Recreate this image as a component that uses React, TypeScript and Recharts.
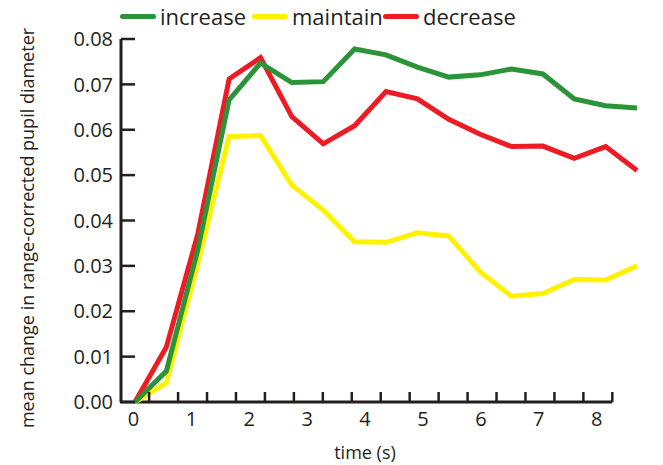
import React from 'react';
import { LineChart, Line, XAxis, YAxis, ReferenceLine } from 'recharts';

// pupil response over time, one value per half second
const time = [0, 0.5, 1, 1.5, 2, 2.5, 3, 3.5, 4, 4.5, 5, 5.5, 6, 6.5, 7, 7.5, 8];
const increase = [0, 0.0068, 0.0335, 0.0666, 0.0747, 0.0704, 0.0706, 0.0778, 0.0765, 0.0738, 0.0716, 0.0721, 0.0734, 0.0723, 0.0668, 0.0653, 0.0648];
const maintain = [0, 0.0042, 0.0305, 0.0585, 0.0587, 0.0478, 0.0423, 0.0353, 0.0352, 0.0373, 0.0366, 0.0287, 0.0233, 0.0239, 0.027, 0.0269, 0.03];
const decrease = [0, 0.0121, 0.037, 0.0712, 0.0759, 0.0629, 0.0569, 0.0609, 0.0684, 0.0668, 0.0623, 0.059, 0.0563, 0.0564, 0.0537, 0.0563, 0.051];

const timeTicks = [0, 1, 2, 3, 4, 5, 6, 7, 8];
// the printed tick marks sit a little off the labels
const markTicks = [0.27, 0.77, 1.27, 1.77, 2.27, 2.77, 3.27, 3.77, 4.27, 4.77, 5.27, 5.77, 6.27, 6.77, 7.27, 7.77, 8.27];
const yTicks = [0, 0.01, 0.02, 0.03, 0.04, 0.05, 0.06, 0.07, 0.08];

const series = [
    { key: 'increase', color: '#2b9338' },
    { key: 'maintain', color: '#fff200' },
    { key: 'decrease', color: '#ed1c24' },
];
// drawing order: green sits on top
const drawOrder = ['maintain', 'decrease', 'increase'];

const rows = time.map((t, i) => ({ t, increase: increase[i], maintain: maintain[i], decrease: decrease[i] }));

const ink = '#231f20';
const font = '"Open Sans", sans-serif';

// the printed time axis is slightly compressed against the plotted samples
const axisRatio = 0.9227;
const axisShift = -0.024;
const toData = (s: number) => +(axisShift + s * axisRatio).toFixed(4);
const labelPos = timeTicks.map(toData);
const markPos = markTicks.map(toData);
const allXTicks = [...labelPos, ...markPos].sort((a, b) => a - b);

const YTick = (props: any) => {
    const { x, y, payload } = props;
    return (
        <g>
            <line x1={x + 8} x2={x + 22} y1={y} y2={y} stroke={ink} strokeWidth={2.5} />
            <text x={x} y={y} dy="0.36em" textAnchor="end" fontSize={20} fontFamily={font} fill={ink}>
                {Number(payload.value).toFixed(2)}
            </text>
        </g>
    );
};

// x ticks: labels for whole seconds, short upward marks for the printed marks
const XTick = (props: any) => {
    const { x, y, payload } = props;
    const li = labelPos.indexOf(payload.value);
    if (li < 0) {
        return (
            <g>
                <line x1={x} x2={x} y1={y} y2={y - 10} stroke={ink} strokeWidth={2.5} />
            </g>
        );
    }
    return (
        <text x={x} y={y + 10} dy="0.71em" textAnchor="middle" fontSize={20} fontFamily={font} fill={ink}>
            {timeTicks[li]}
        </text>
    );
};

const YTitle = () => (
    <text x={27} y={228} transform="rotate(-90, 27, 228)" textAnchor="middle" dominantBaseline="central" fontSize={18} fontFamily={font} fill={ink}>
        mean change in range-corrected pupil diameter
    </text>
);

const legendLeft = [120, 252, 383];

export default function App() {
    return (
        <div style={{ position: 'absolute', left: 0, top: 0, width: 663, height: 465, background: '#fff', fontFamily: font }}>
            <LineChart width={663} height={465} data={rows} margin={{ top: 39, right: 26, bottom: 0, left: 0 }}>
                <XAxis
                    dataKey="t"
                    type="number"
                    domain={[0, 8]}
                    padding={{ left: 14, right: 0 }}
                    ticks={allXTicks}
                    interval={0}
                    height={63}
                    axisLine={false}
                    tickLine={false}
                    tickSize={0}
                    tickMargin={0}
                    tick={XTick}
                    label={{ value: 'time (s)', position: 'insideBottom', offset: 6, dx: -14, fontSize: 18, fill: ink, fontFamily: font }}
                />
                <YAxis
                    domain={[0, 0.08]}
                    ticks={yTicks}
                    interval={0}
                    width={121}
                    axisLine={{ stroke: ink, strokeWidth: 3 }}
                    tickLine={false}
                    tickSize={0}
                    tickMargin={8}
                    tick={YTick}
                    label={<YTitle />}
                />
                <ReferenceLine
                    segment={[{ x: -0.24, y: 0 }, { x: toData(8.27), y: 0 }]}
                    stroke={ink}
                    strokeWidth={3}
                    ifOverflow="visible"
                />
                {drawOrder.map(k => {
                    const s = series.find(v => v.key === k)!;
                    return (
                        <Line
                            key={k}
                            dataKey={k}
                            stroke={s.color}
                            strokeWidth={5}
                            dot={false}
                            activeDot={false}
                            isAnimationActive={false}
                        />
                    );
                })}
            </LineChart>
            {series.map((s, i) => (
                <div key={s.key} style={{ position: 'absolute', left: legendLeft[i], top: 1, height: 30, display: 'flex', alignItems: 'center' }}>
                    <div style={{ width: 36, height: 5, borderRadius: 3, background: s.color }} />
                    <span style={{ marginLeft: 4, fontSize: 22, color: ink, lineHeight: '30px' }}>{s.key}</span>
                </div>
            ))}
        </div>
    );
}
